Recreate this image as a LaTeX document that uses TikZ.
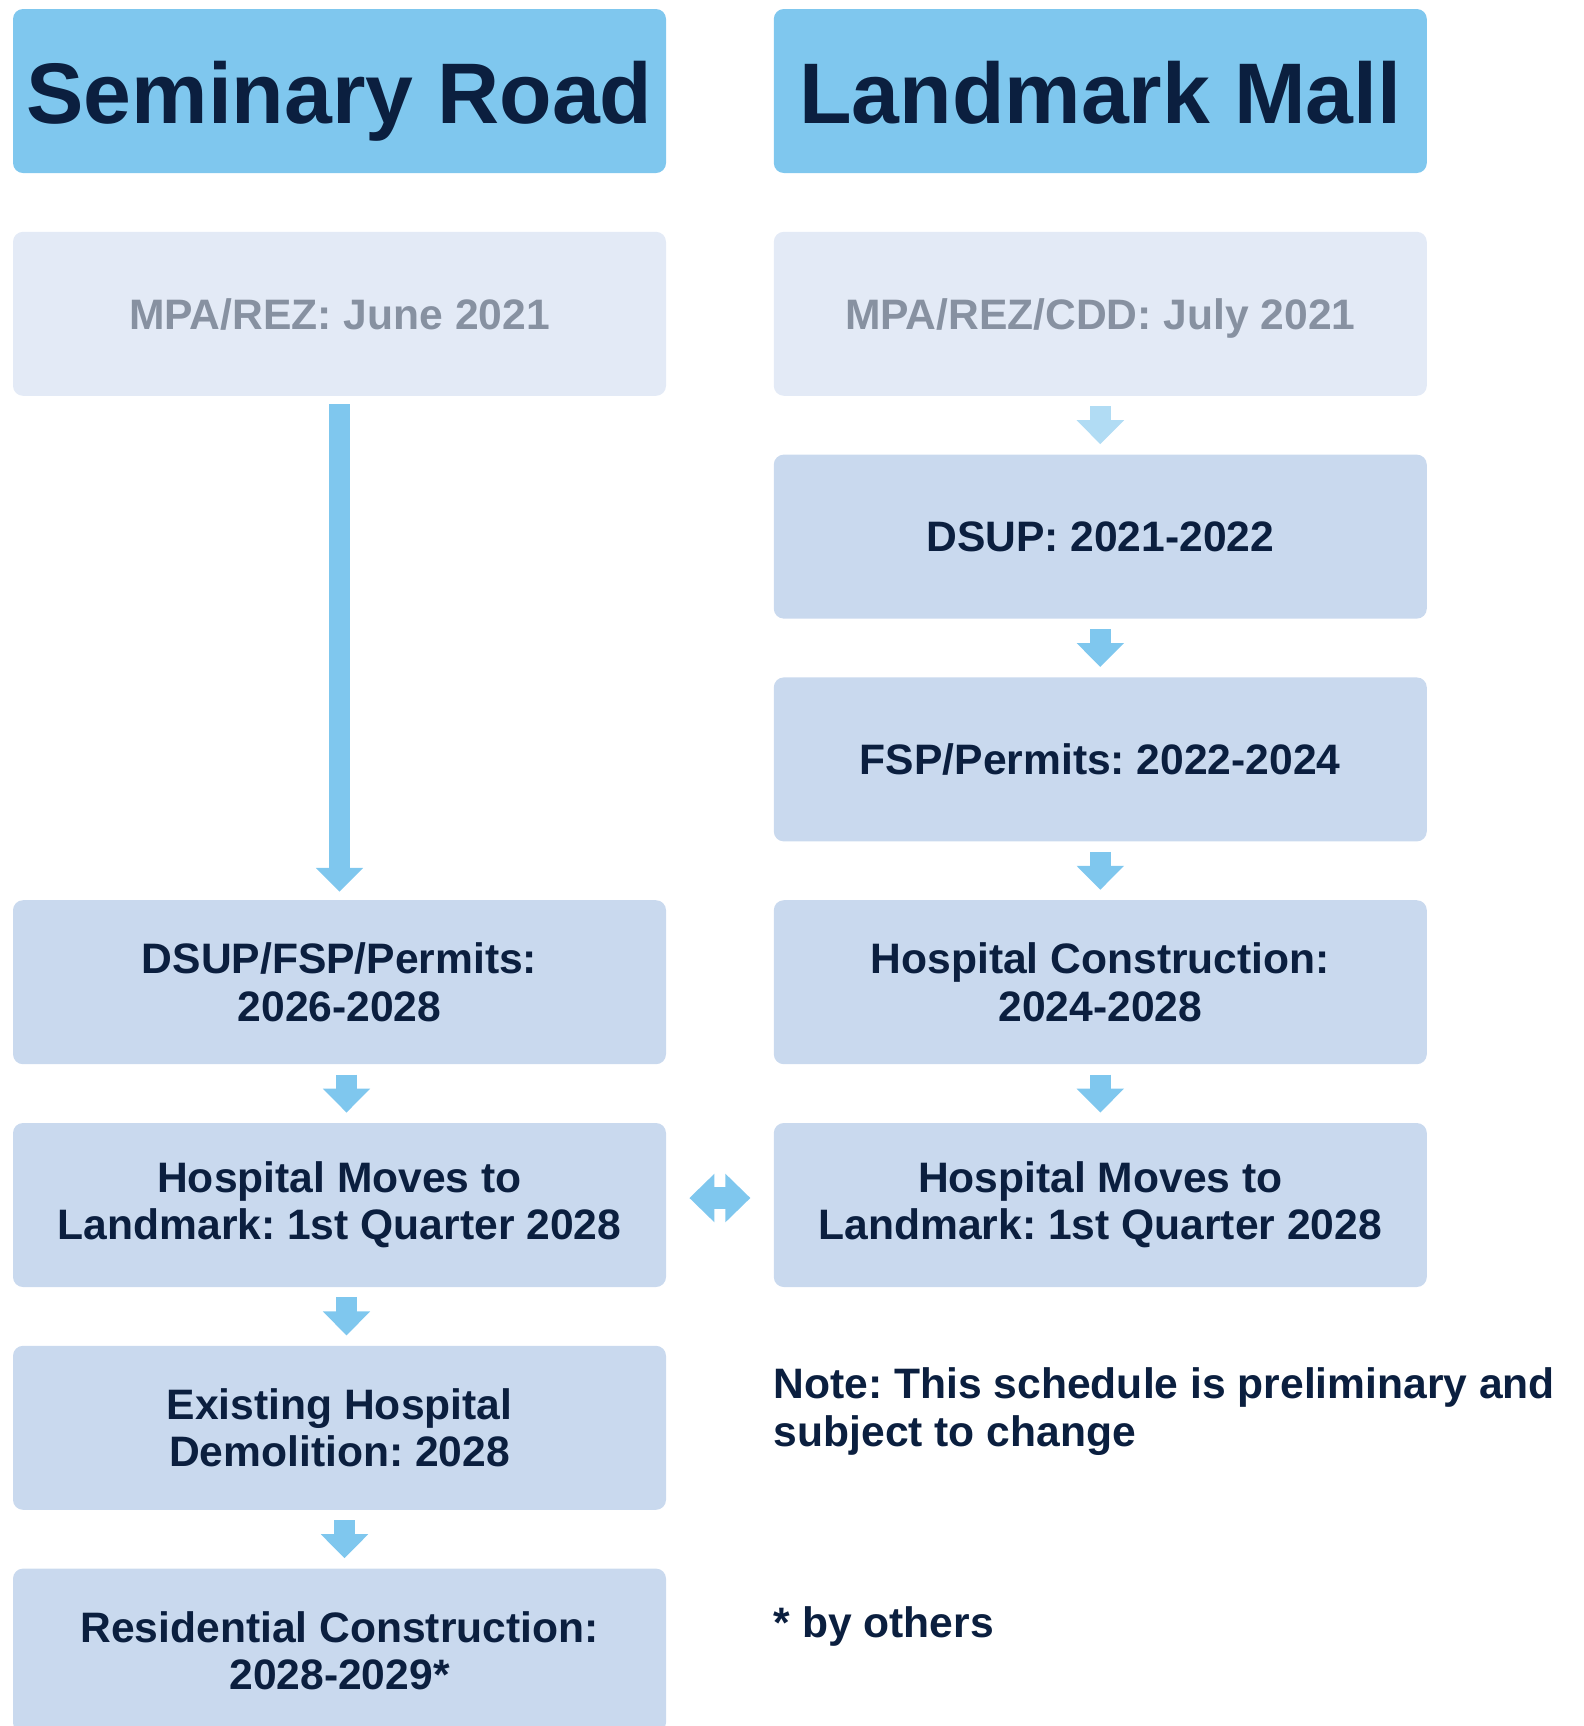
\documentclass[tikz,border=0pt]{standalone}
\usepackage{fontspec}
\setmainfont{Liberation Sans}
\usetikzlibrary{arrows.meta,positioning}
\definecolor{navy}{HTML}{0B1F3F}
\definecolor{skyblue}{HTML}{7FC7EE}
\definecolor{paleblue}{HTML}{B1DCF4}
\definecolor{boxblue}{HTML}{C9D9EE}
\definecolor{mistblue}{HTML}{E3EAF6}
\definecolor{slategray}{HTML}{8791A1}
\frenchspacing

\begin{document}
\begin{tikzpicture}[
  node distance=29pt and 53.5pt,
  box/.style={rounded corners=5pt, align=center, inner sep=0pt, text=navy,
              minimum width=326.5pt, minimum height=82pt,
              font=\bfseries\fontsize{21.3pt}{23.7pt}\selectfont, fill=#1},
  box/.default=boxblue,
  head/.style={box=skyblue, text height=32pt, text depth=0pt,
               font=\bfseries\fontsize{43pt}{48pt}\selectfont},
  early/.style={box=mistblue, text=slategray, text height=15.5pt, text depth=0pt},
  note/.style={align=left, inner sep=0pt, text=navy,
               font=\bfseries\fontsize{21.3pt}{24pt}\selectfont},
  arr/.style={draw=#1, line width=10.5pt, shorten <=5pt, shorten >=5pt,
              -{Triangle[width=23pt, length=12pt]}},
  arr/.default=skyblue]
\useasboundingbox (0,0) rectangle (792pt,-863pt);
% column heads
\node[head] (lh) at (169.75pt,-45.5pt) {Seminary Road};
\node[head, right=of lh] (rh) {Landmark Mall};
% Landmark Mall column
\node[early, below=of rh] (r1) {MPA/REZ/CDD: July 2021};
\node[box, below=of r1] (r2) {DSUP: 2021-2022};
\node[box, below=of r2] (r3) {FSP/Permits: 2022-2024};
\node[box, below=of r3] (r4) {Hospital Construction:\\2024-2028};
\node[box, below=of r4] (r5) {Hospital Moves to\\Landmark: 1st Quarter 2028};
% Seminary Road column
\node[early, below=of lh] (l1) {MPA/REZ: June 2021};
\node[box] (l4) at (l1 |- r4) {DSUP/FSP/Permits:\\2026-2028};
\node[box, below=of l4] (l5) {Hospital Moves to\\Landmark: 1st Quarter 2028};
\node[box, below=of l5] (l6) {Existing Hospital\\Demolition: 2028};
\node[box, below=of l6] (l7) {Residential Construction:\\2028-2029*};
% notes
\node[note, below=40pt of r5.south west, anchor=north west] (nt) {Note: This schedule is preliminary and\\subject to change};
\node[note, below=75pt of nt.south west, anchor=north west] (by) {* by others};
% arrows
\draw[arr=paleblue] (r1) -- (r2);
\draw[arr] (r2) -- (r3);
\draw[arr] (r3) -- (r4);
\draw[arr] (r4) -- (r5);
\draw[arr, shorten <=4pt, shorten >=4pt] (l1) -- (l4);
\draw[arr] ([xshift=3.5pt]l4.south) -- ([xshift=3.5pt]l5.north);
\draw[arr] ([xshift=3.5pt]l5.south) -- ([xshift=3.5pt]l6.north);
\draw[arr] ([xshift=2.5pt]l6.south) -- ([xshift=2.5pt]l7.north);
\draw[skyblue, line width=11pt, shorten <=11.5pt, shorten >=11.5pt,
  {Triangle[width=23.5pt, length=12.5pt]}-{Triangle[width=23.5pt, length=12.5pt]}]
  ([yshift=3.5pt]l5.east) -- ([yshift=3.5pt]r5.west);
\end{tikzpicture}
\end{document}
